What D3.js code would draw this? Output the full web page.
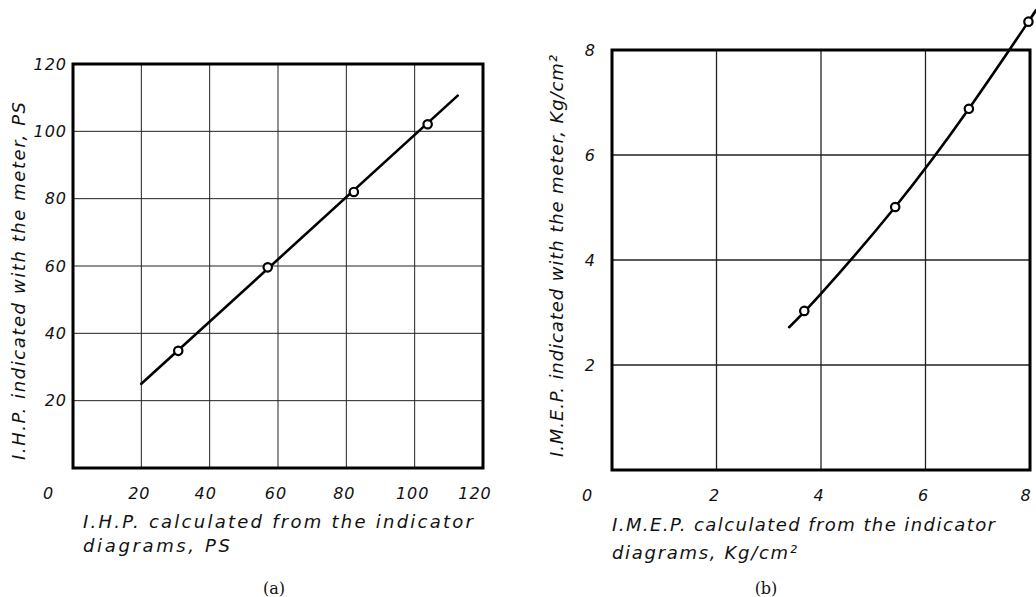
<!DOCTYPE html>
<html>
<head>
<meta charset="utf-8">
<script src="https://cdn.jsdelivr.net/npm/d3@7"></script>
<style>
  html, body { margin: 0; padding: 0; background: #fff; }
  svg { display: block; }
  .lett { font-family: "DejaVu Sans", sans-serif; font-style: italic; fill: #111; }
  .cap { font-family: "DejaVu Serif", "Liberation Serif", serif; fill: #111; }
</style>
</head>
<body>
<svg id="fig" width="1036" height="597"></svg>
<script>
// (a) indicated horsepower: calculated vs. meter reading, PS
const ihpCalc  = [30.8, 57.0, 82.2, 103.8];
const ihpMeter = [34.8, 59.6, 82.0, 102.1];
const ihpFitX  = [20.0, 112.6];
const ihpFitY  = [25.0, 110.6];
const ihpTicks = [20, 40, 60, 80, 100, 120];

// (b) indicated mean effective pressure: calculated vs. meter reading, kg/cm²
const imepCalc  = [3.68, 5.42, 6.83, 7.97];
const imepMeter = [3.03, 5.01, 6.88, 8.54];
const imepFitX  = [3.39, 4.01, 5.42, 6.83, 7.97, 8.06];
const imepFitY  = [2.72, 3.37, 5.01, 6.88, 8.54, 8.68];
const imepTicks = [2, 4, 6, 8];

const svg = d3.select("#fig");

function panel(opt) {
  const g = svg.append("g");
  const x = d3.scaleLinear().domain(opt.domain).range([opt.left, opt.right]);
  const y = d3.scaleLinear().domain(opt.domain).range([opt.bottom, opt.top]);

  // grid
  const inner = opt.ticks.filter(t => t !== opt.domain[1]);
  g.selectAll(".gx").data(inner).join("line")
    .attr("x1", d => x(d)).attr("x2", d => x(d))
    .attr("y1", opt.top).attr("y2", opt.bottom)
    .attr("stroke", "#222").attr("stroke-width", opt.gridW);
  g.selectAll(".gy").data(inner).join("line")
    .attr("y1", d => y(d)).attr("y2", d => y(d))
    .attr("x1", opt.left).attr("x2", opt.right)
    .attr("stroke", "#222").attr("stroke-width", opt.gridW);

  // frame
  g.append("rect")
    .attr("x", opt.left).attr("y", opt.top)
    .attr("width", opt.right - opt.left).attr("height", opt.bottom - opt.top)
    .attr("fill", "none").attr("stroke", "#000").attr("stroke-width", 3);

  // tick labels
  g.selectAll(".ty").data(opt.ticks).join("text").attr("class", "lett")
    .attr("x", opt.left + opt.yLabDx).attr("y", d => y(d))
    .attr("dy", "0.35em").attr("text-anchor", "end")
    .attr("font-size", 16).attr("letter-spacing", 1)
    .text(d => d);
  g.selectAll(".tx").data(opt.ticks).join("text").attr("class", "lett")
    .attr("x", d => x(d) + opt.xLabDx(d)).attr("y", opt.bottom + 25)
    .attr("dy", "0.35em").attr("text-anchor", "middle")
    .attr("font-size", 16).attr("letter-spacing", 1)
    .text(d => d);
  g.append("text").attr("class", "lett")
    .attr("x", x(0) - 25).attr("y", opt.bottom + 25)
    .attr("dy", "0.35em").attr("text-anchor", "middle")
    .attr("font-size", 16).text("0");

  // axis titles
  opt.xTitle.forEach((line, i) => {
    g.append("text").attr("class", "lett")
      .attr("x", opt.xTitleX).attr("y", opt.xTitleY + i * opt.xTitleGap)
      .attr("dy", "0.35em").attr("font-size", 18)
      .attr("textLength", line.len).attr("lengthAdjust", "spacing")
      .text(line.t);
  });
  g.append("text").attr("class", "lett")
    .attr("transform", `translate(${opt.yTitleX},${opt.yTitleY}) rotate(-90)`)
    .attr("dy", "0.35em").attr("font-size", 18)
    .attr("textLength", opt.yTitleLen).attr("lengthAdjust", "spacing")
    .text(opt.yTitle);

  // caption
  g.append("text").attr("class", "cap")
    .attr("x", opt.capX).attr("y", 588).attr("dy", "0.35em")
    .attr("text-anchor", "middle").attr("font-size", 16)
    .text(opt.cap);

  // fitted line / curve
  const fit = opt.fitX.map((v, i) => [v, opt.fitY[i]]);
  g.append("path")
    .attr("d", d3.line().x(d => x(d[0])).y(d => y(d[1])).curve(d3.curveNatural)(fit))
    .attr("fill", "none").attr("stroke", "#000").attr("stroke-width", 2.6)
    .attr("stroke-linecap", "round");

  // measured points
  const pts = opt.px.map((v, i) => [v, opt.py[i]]);
  g.selectAll(".pt").data(pts).join("circle")
    .attr("cx", d => x(d[0])).attr("cy", d => y(d[1])).attr("r", 4.2)
    .attr("fill", "#fff").attr("stroke", "#000").attr("stroke-width", 2.2);
}

panel({
  domain: [0, 120], ticks: ihpTicks,
  left: 73, right: 483, top: 64, bottom: 468, gridW: 1,
  yLabDx: -6, xLabDx: d => (d === 120 ? -8 : d === 40 ? -4 : -2),
  xTitle: [{ t: "I.H.P. calculated  from the   indicator", len: 390 },
           { t: "diagrams, PS", len: 147 }],
  xTitleX: 83, xTitleY: 522, xTitleGap: 24,
  yTitle: "I.H.P. indicated with the meter, PS", yTitleX: 19, yTitleY: 460, yTitleLen: 358,
  cap: "(a)", capX: 274,
  fitX: ihpFitX, fitY: ihpFitY, px: ihpCalc, py: ihpMeter
});

panel({
  domain: [0, 8], ticks: imepTicks,
  left: 612, right: 1030, top: 50, bottom: 470, gridW: 1.3,
  yLabDx: -16, xLabDx: d => (d === 8 ? -4 : -2),
  xTitle: [{ t: "I.M.E.P. calculated from  the  indicator", len: 383 },
           { t: "diagrams,  Kg/cm²", len: 185 }],
  xTitleX: 612, xTitleY: 525, xTitleGap: 28,
  yTitle: "I.M.E.P. indicated with the meter,  Kg/cm²", yTitleX: 557, yTitleY: 457, yTitleLen: 402,
  cap: "(b)", capX: 766,
  fitX: imepFitX, fitY: imepFitY, px: imepCalc, py: imepMeter
});
</script>
</body>
</html>
